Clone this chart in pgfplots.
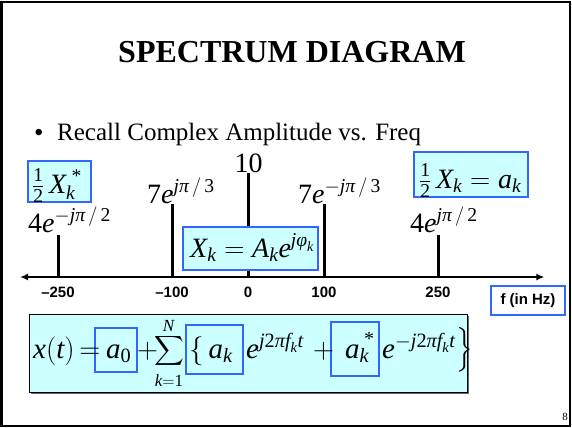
\RequirePackage{fix-cm}
\documentclass[border=0pt]{standalone}
\usepackage{amsmath}
\usepackage{fontspec}
\setmainfont{Liberation Serif}
\setsansfont{Liberation Sans}
\usepackage{pgfplots}
\pgfplotsset{compat=1.18}
\usetikzlibrary{arrows.meta}

\definecolor{boxfill}{HTML}{CCFFFF}
\definecolor{boxline}{HTML}{3366FF}

\newcommand{\I}[1]{\textit{#1}}
\newcommand{\fs}[1]{\fontsize{#1bp}{#1bp}\selectfont}

\begin{document}
\begin{tikzpicture}
\begin{scope}[x=1bp,y=-1bp]
  \useasboundingbox (0,0) rectangle (572,427);
  \draw[line width=2bp] (1.5,1.5) rectangle (570,425.5);
  \draw[line width=1.5bp] (2.5,1.5) -- (2.5,425.5);
\end{scope}

\begin{axis}[
    at={(20bp,-277bp)}, anchor=south west,
    scale only axis,
    width=524.4bp, height=124.8bp,
    xmin=-300, xmax=390,
    ymin=0, ymax=12,
    axis x line=middle,
    axis y line=none,
    x axis line style={line width=2bp,
      {Latex[length=8bp,width=7bp]}-{Latex[length=8bp,width=7bp]}},
    xtick={-250,-100,0,100,250},
    xticklabels={--250,--100,0,100,250},
    major tick length=0pt,
    xticklabel style={font=\fs{15}\sffamily\bfseries, yshift=-6bp},
    ytick=\empty,
    clip=false,
]
\addplot[ycomb, black, line width=3bp, mark=none] coordinates {
  (-250,4) (-100,7) (0,10) (100,7) (250,4)
};
\end{axis}

\begin{scope}[x=1bp,y=-1bp]
  % title and bullet
  \node[anchor=base] at (292,62) {\fs{32}\bfseries SPECTRUM DIAGRAM};
  \node[anchor=base west, inner sep=0] at (34,141) {\fs{27}\textbullet};
  \node[anchor=base west, inner sep=0] at (57,140) {\fs{25}Recall Complex Amplitude vs. Freq};

  % line labels
  \node[anchor=base, inner sep=0] at (248.5,172) {\fs{28}10};
  \node[anchor=base west, inner sep=0] at (147,203) {\fs{28}7$\I{e}^{\I{j}\I{π}\,/\,\text{3}}$};
  \node[anchor=base west, inner sep=0] at (28,232) {\fs{28}4$\I{e}^{-\I{j}\I{π}\,/\,\text{2}}$};
  \node[anchor=base west, inner sep=0] at (298,203) {\fs{28}7$\I{e}^{-\I{j}\I{π}\,/\,\text{3}}$};
  \node[anchor=base west, inner sep=0] at (410,232) {\fs{28}4$\I{e}^{\I{j}\I{π}\,/\,\text{2}}$};

  % boxes
  \draw[boxline, fill=boxfill, line width=1.8bp] (28,161) rectangle (91,202);
  \node[anchor=base west, inner sep=0] at (32,193)
    {\fs{28}$\tfrac{\text{1}}{\text{2}}\,\I{X}_{\I{k}}^{\;\text{*}}$};

  \draw[boxline, fill=boxfill, line width=1.8bp] (183,227) rectangle (318,270);
  \node[anchor=base west, inner sep=0] at (190,257)
    {\fs{28}$\I{X}_{\I{k}} = \I{A}_{\I{k}}\I{e}^{\I{j}\I{φ}_{\I{k}}}$};

  \draw[boxline, fill=boxfill, line width=1.8bp] (414,152) rectangle (528,197);
  \node[anchor=base west, inner sep=0] at (419,188)
    {\fs{28}$\tfrac{\text{1}}{\text{2}}\,\I{X}_{\I{k}} = \I{a}_{\I{k}}$};

  \draw[boxline, fill=white, line width=1.8bp] (491,286) rectangle (565,315);
  \node at (528,300.5) {\fs{15}\sffamily\bfseries f (in Hz)};

  % formula box
  \fill[black!60] (30.5,315.5) rectangle (468.5,393.5);
  \draw[black, fill=boxfill, line width=0.8bp] (29,314) rectangle (467,392);
  \draw[boxline, line width=1.8bp] (95,328) rectangle (137,372);
  \draw[boxline, line width=1.8bp] (186,325) rectangle (243,374);
  \draw[boxline, line width=1.8bp] (331,322) rectangle (379,376);

  \node[anchor=base west, inner sep=0] at (33,358) {\fs{29}$\I{x}(\I{t})\,{=}$};
  \node[anchor=base west, inner sep=0] at (106,358) {\fs{29}$\I{a}_{\text{0}}$};
  \node[anchor=base west, inner sep=0] at (137,358) {\fs{29}$+$};
  \node[anchor=base, inner sep=0] at (169,356) {\fs{21}$\displaystyle\sum$};
  \node[anchor=base, inner sep=0] at (169,331) {\fs{17}\I{N}};
  \node[anchor=base, inner sep=0] at (169,386) {\fs{17}$\I{k}{=}\text{1}$};
  \node[anchor=base west, inner sep=0] at (189,358) {\fs{29}$\{\,\I{a}_{\I{k}}$};
  \node[anchor=base west, inner sep=0] at (246,358)
    {\fs{29}$\I{e}^{\I{j}\text{2}\I{π}\I{f}_{\I{k}}\I{t}}$};
  \node[anchor=base west, inner sep=0] at (313,358) {\fs{29}$+$};
  \node[anchor=base west, inner sep=0] at (345,358) {\fs{29}$\I{a}_{\I{k}}$};
  \node[anchor=base west, inner sep=0] at (364,345) {\fs{20}*};
  \node[anchor=base west, inner sep=0] at (382,358)
    {\fs{29}$\I{e}^{-\I{j}\text{2}\I{π}\I{f}_{\I{k}}\I{t}}$};
  \node[anchor=base west, inner sep=0] at (456,357) {\fs{29}$\big\}$};

  \node at (565,417) {\fs{11}8};
\end{scope}
\end{tikzpicture}
\end{document}
